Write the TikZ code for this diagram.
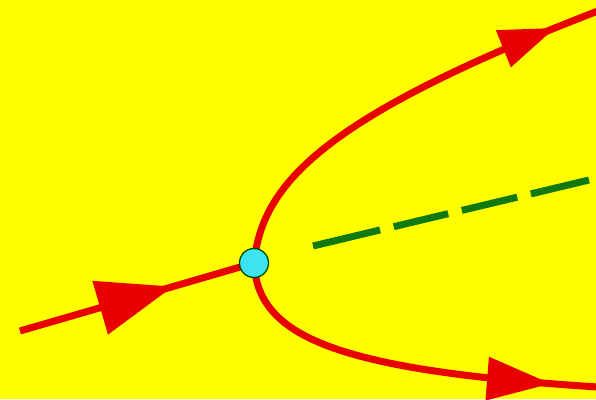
\documentclass[tikz,border=0pt]{standalone}
\usetikzlibrary{arrows.meta,decorations.markings}
\definecolor{bgyellow}{RGB}{255,255,0}
\definecolor{linered}{RGB}{232,0,0}
\definecolor{dashgreen}{RGB}{16,122,16}
\definecolor{vertexcyan}{RGB}{60,228,240}
\pgfdeclarelayer{fg}
\pgfsetlayers{main,fg}
\begin{document}
\begin{tikzpicture}[x=1pt,y=-1pt,
  redline/.style={draw=linered,line width=7pt},
  arrowat/.style n args={3}{postaction={decorate},
    decoration={markings,mark=at position #1 with {\arrow[linered]{Triangle[length=#2,width=#3]}}}},
  dashline/.style={draw=dashgreen,line width=7pt,
    dash pattern=on 69pt off 14pt on 56pt off 14pt on 57pt off 14pt on 60pt off 20pt},
  vertex/.style={circle,draw=black!70!green,line width=1.3pt,fill=vertexcyan,
    minimum size=29pt,inner sep=0pt}]
\useasboundingbox[fill=bgyellow] (0,0) rectangle (596,399);
\begin{pgfonlayer}{fg}
\node[vertex] (v) at (254,263) {};
\end{pgfonlayer}
\coordinate (inStart) at (20,331);
\coordinate (upEnd) at (598,11);
\coordinate (lowEnd) at (598,387);
\coordinate (dashStart) at (313,246);
\coordinate (dashEnd) at (589,180);
% incoming branch
\draw[redline,arrowat={159.5pt}{76pt}{54pt}] (inStart) -- (v.center);
% upper branch
\draw[redline,arrowat={0.897}{56pt}{38pt}] (v.center) .. controls (262,185) and (320,118) .. (upEnd);
% lower branch
\draw[redline,arrowat={0.88}{64pt}{42pt}] (v.center) .. controls (258,335) and (330,370) .. (lowEnd);
% green dashed line
\draw[dashline] (dashStart) -- (dashEnd);
\end{tikzpicture}
\end{document}
